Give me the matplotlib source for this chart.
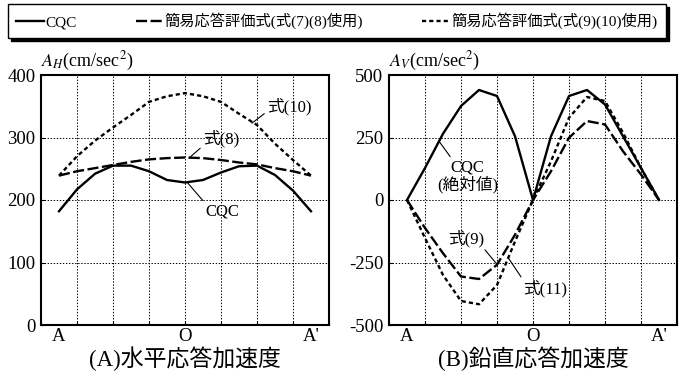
import matplotlib
matplotlib.use("Agg")
import matplotlib.pyplot as plt
from matplotlib.lines import Line2D

plt.rcParams['font.family'] = ['Liberation Serif', 'Noto Sans CJK JP']
plt.rcParams['mathtext.fontset'] = 'stix'
plt.rcParams['axes.unicode_minus'] = False
plt.rcParams['lines.scale_dashes'] = False

# positions along section A - O - A'
pos = [-3.5, -3.0, -2.5, -2.0, -1.5, -1.0, -0.5, 0.0, 0.5, 1.0, 1.5, 2.0, 2.5, 3.0, 3.5]
xtick_labels = ["A", "O", "A'"]
xtick_pos = [-3.5, 0.0, 3.5]
grid_pos = [-4, -3, -2, -1, 0, 1, 2, 3, 4]

# (A) horizontal response acceleration
h_cqc = [182, 217, 242, 255, 255, 246, 232, 228, 232, 244, 254, 255, 240, 215, 182]
h_eq8 = [239, 246, 251, 256, 261, 265, 267, 268, 267, 264, 260, 257, 251, 246, 239]
h_eq10 = [239, 270, 295, 316, 336, 357, 366, 371, 366, 357, 338, 320, 290, 264, 239]
h_yticks = [0, 100, 200, 300, 400]

# (B) vertical response acceleration
v_cqc = [0, 128, 265, 376, 440, 416, 255, 0, 255, 416, 440, 382, 255, 128, 0]
v_eq9 = [0, -112, -213, -306, -316, -259, -139, 0, 115, 249, 316, 302, 195, 102, 0]
v_eq11 = [0, -152, -300, -404, -417, -340, -166, 0, 155, 329, 412, 396, 269, 128, 0]
v_yticks = [-500, -250, 0, 250, 500]

legend_labels = ["CQC", "簡易応答評価式(式(7)(8)使用)", "簡易応答評価式(式(9)(10)使用)"]
titles = ["(A)水平応答加速度", "(B)鉛直応答加速度"]

LONG = (0, (8.0, 2.5))
SHORT = (0, (3.0, 2.2))
LW = 1.7

fig = plt.figure(figsize=(6.84, 3.76), dpi=100)
W, H = 684, 376
axA = fig.add_axes([41 / W, 1 - 325 / H, 288 / W, 250 / H])
axB = fig.add_axes([389 / W, 1 - 325 / H, 288 / W, 250 / H])


def style(ax, yticks):
    ax.xaxis.remove_overlapping_locs = False
    ax.set_xlim(-4, 4)
    ax.set_ylim(yticks[0], yticks[-1])
    ax.set_xticks(grid_pos)
    ax.set_xticklabels([])
    ax.set_xticks(xtick_pos, minor=True)
    ax.set_xticklabels(xtick_labels, minor=True, fontsize=13.5)
    ax.tick_params(axis='x', which='minor', length=0, pad=2)
    ax.tick_params(axis='x', which='major', direction='in', length=3, width=0.8)
    ax.set_yticks(yticks)
    ax.set_yticklabels([str(v) for v in yticks], fontsize=13.5)
    ax.tick_params(axis='y', direction='in', length=3, width=0.8, pad=4)
    ax.grid(True, which='major', color='black', linestyle=(0, (1, 1.2)), linewidth=0.7)
    for s in ax.spines.values():
        s.set_linewidth(1.5)
    ax.set_axisbelow(True)


style(axA, h_yticks)
style(axB, v_yticks)

axA.plot(pos, h_cqc, color='black', lw=LW, linestyle='-')
axA.plot(pos, h_eq8, color='black', lw=LW, linestyle=LONG)
axA.plot(pos, h_eq10, color='black', lw=LW, linestyle=SHORT)

axB.plot(pos, v_cqc, color='black', lw=LW, linestyle='-')
axB.plot(pos, v_eq9, color='black', lw=LW, linestyle=LONG)
axB.plot(pos, v_eq11, color='black', lw=LW, linestyle=SHORT)

axA.text(0.0, 1.008, r'$A_H$(cm/sec$^2$)', transform=axA.transAxes,
         ha='left', va='bottom', fontsize=13)
axB.text(0.0, 1.008, r'$A_V$(cm/sec$^2$)', transform=axB.transAxes,
         ha='left', va='bottom', fontsize=13)

ap = dict(arrowstyle='-', color='black', lw=0.8, shrinkA=0, shrinkB=0)
axA.annotate('式(10)', xy=(1.86, 323), xytext=(2.28, 350), ha='left', va='center',
             fontsize=12, arrowprops=dict(ap, relpos=(0, 0.2)))
axA.annotate('式(8)', xy=(0.11, 267), xytext=(0.5, 298), ha='left', va='center',
             fontsize=12, arrowprops=dict(ap, relpos=(0, 0.1)))
axA.annotate('CQC', xy=(0.08, 227), xytext=(0.56, 182), ha='left', va='center',
             fontsize=12, arrowprops=dict(ap, relpos=(0, 1)))

axB.annotate('CQC\n(絶対値)', xy=(-2.61, 235), xytext=(-1.82, 95), ha='center', va='center',
             fontsize=12, linespacing=1.0, arrowprops=dict(ap, relpos=(0.25, 1)))
axB.annotate('式(9)', xy=(-0.99, -259), xytext=(-1.85, -153), ha='center', va='center',
             fontsize=12, arrowprops=dict(ap, relpos=(0.95, 0)))
axB.annotate('式(11)', xy=(-0.67, -235), xytext=(0.33, -354), ha='center', va='center',
             fontsize=12, arrowprops=dict(ap, relpos=(0, 1)))

fig.text(185 / W, 1 - 359 / H, titles[0], ha='center', va='center', fontsize=16.5)
fig.text(533 / W, 1 - 359 / H, titles[1], ha='center', va='center', fontsize=16.5)

handles = [Line2D([], [], color='black', lw=LW, linestyle='-'),
           Line2D([], [], color='black', lw=LW, linestyle=LONG),
           Line2D([], [], color='black', lw=LW, linestyle=SHORT)]
leg = fig.legend(handles, legend_labels, ncol=3, mode='expand',
                 bbox_to_anchor=(8 / W, 1 - 37 / H, 658 / W, 32 / H), loc='center',
                 fontsize=11, frameon=True, fancybox=False, edgecolor='black',
                 shadow={'color': 'black', 'alpha': 1.0}, handlelength=1.8,
                 handletextpad=0.1, borderpad=0.55, borderaxespad=0, columnspacing=1.0)
leg.get_frame().set_linewidth(1.0)

fig.savefig('out.png', dpi=100)
